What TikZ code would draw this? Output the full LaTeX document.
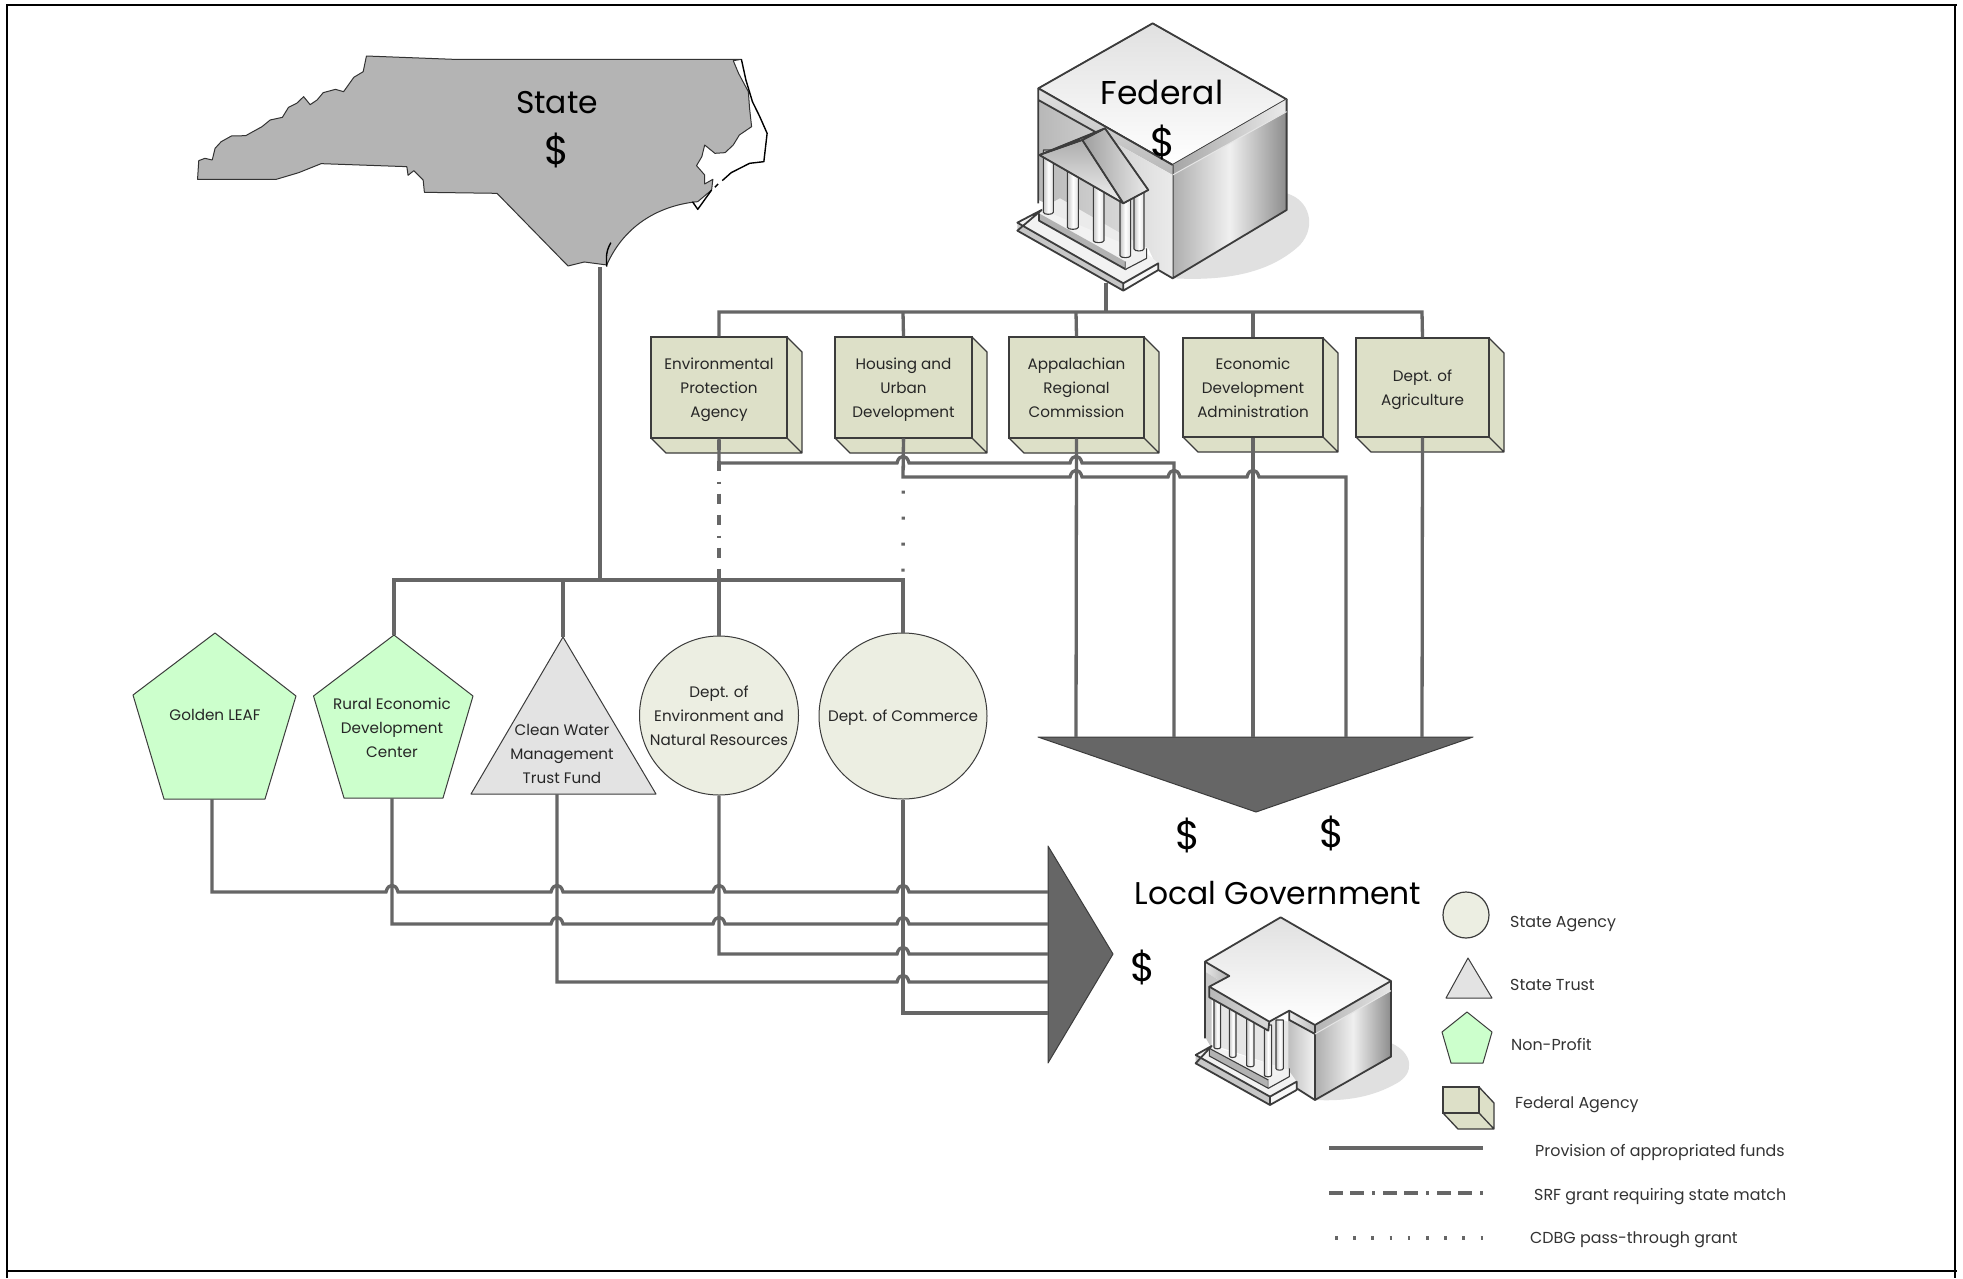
\documentclass[tikz,border=0pt]{standalone}
\usepackage{fontspec}
\setmainfont{Poppins}
\usetikzlibrary{shapes.geometric}
\definecolor{lineg}{HTML}{666666}
\definecolor{boxf}{HTML}{DDE0C8}
\definecolor{circf}{HTML}{ECEEE2}
\definecolor{triaf}{HTML}{E3E3E3}
\definecolor{pentf}{HTML}{CCFFCC}
\definecolor{mapf}{HTML}{B4B4B4}
\definecolor{edgeg}{HTML}{3C3C3C}
\newcommand{\hop}[2]{-- ({#1-6},#2) .. controls ({#1-4},{#2-9}) and ({#1+4},{#2-9}) .. ({#1+6},#2)}
\newcommand{\txtS}{\fontsize{15.2}{24}\selectfont}
\newcommand{\txtL}{\fontsize{15.9}{20}\selectfont}
\newcommand{\txtB}{\fontsize{31.4}{36}\selectfont}
\newcommand{\txtF}{\fontsize{33}{36}\selectfont}
\newcommand{\txtD}{\fontsize{40}{44}\selectfont}
\newcommand{\vstrut}{\rule[-7pt]{0pt}{25pt}}
\newcommand{\agencybox}[6]{% name, x0,y0,x1,y1, text
  \fill[boxf] (#2,#5) -- ({#2+15},{#5+15}) -- ({#4+15},{#5+15}) -- ({#4+15},{#3+15}) -- (#4,#3) -- cycle;
  \draw[edgeg,line width=1.3pt,line join=round] (#2,#5) -- ({#2+15},{#5+15}) -- ({#4+15},{#5+15}) -- ({#4+15},{#3+15}) -- (#4,#3) (#4,#5) -- ({#4+15},{#5+15});
  \node[agency,minimum width={(#4-#2)*1pt},minimum height={(#5-#3)*1pt}] (#1) at ({(#2+#4)/2},{(#3+#5)/2}) {};
  \node[labm] (#1t) at (#1.center) {#6};
}
\tikzset{
  x=1pt,y=-1pt,
  fund/.style={lineg,line width=3.3pt,line join=miter},
  srf/.style={lineg,line width=3.3pt,dash pattern=on 14pt off 7pt on 14pt off 8pt on 2.5pt off 8.5pt},
  srfv/.style={lineg,line width=3.3pt,dash pattern=on 10pt off 11pt on 10pt off 11pt on 2pt off 10pt},
  cdbg/.style={lineg,line width=3.3pt,dash pattern=on 2.5pt off 15.7pt},
  cdbgv/.style={lineg,line width=3.3pt,dash pattern=on 3pt off 23pt},
  agency/.style={draw=edgeg,line width=1.3pt,fill=boxf,inner sep=0pt},
  stateag/.style={draw=edgeg,line width=1pt,fill=circf,ellipse,inner sep=0pt},
  shp/.style={draw=edgeg,line width=1pt,line join=round},
  lab/.style={inner sep=0pt,align=center,text=black!85,font=\txtS,execute at begin node=\vstrut,execute at end node=\vstrut},
  labm/.style={lab,yshift=-3.75pt},
  leg/.style={inner sep=0pt,anchor=west,text=black!80,font=\txtL,execute at begin node=\vstrut},
  big/.style={inner sep=0pt,text=black,font=\txtB},
  bigf/.style={inner sep=0pt,text=black,font=\txtF},
  bigd/.style={inner sep=0pt,text=black,font=\txtD},
  bld/.style={draw=edgeg,line width=1.8pt,line join=round},
  bldt/.style={draw=edgeg,line width=1.1pt,line join=round},
}
\begin{document}
\begin{tikzpicture}
\useasboundingbox (0,0) rectangle (1963,1278);
\fill[white] (0,0) rectangle (1963,1278);
% page frame
\draw[black,line width=2.4pt] (7,1278) -- (7,5) -- (1957,5);
\draw[black,line width=2.4pt] (1955,5) -- (1955,1278);
\draw[black,line width=2.4pt] (7,1271) -- (1957,1271);

% ---------- North Carolina map
\begin{scope}[xshift=160pt,yshift=-20pt,x=0.408pt,y=-0.3333pt]
 \draw[black!80,line width=1pt,fill=mapf,line join=round]
  (92,478) -- (95,422) -- (110,415) -- (128,420) -- (135,385) -- (150,365) -- (175,348) -- (210,347) -- (250,320) -- (270,300) -- (300,292) -- (315,262) -- (335,250) -- (352,230) -- (368,254) -- (385,240) -- (400,218) -- (430,208) -- (450,215) -- (475,172) -- (498,155) -- (506,108) -- (720,118) -- (1425,118)
  -- (1405,122) -- (1418,160) -- (1442,215) -- (1445,265) -- (1450,320) -- (1420,345) -- (1405,375) -- (1385,398) -- (1360,400) -- (1335,375) -- (1328,410) -- (1315,437) -- (1335,465) -- (1335,492) -- (1355,478) -- (1352,510) -- (1318,545) .. controls (1230,555) and (1140,610) .. (1095,735) -- (1040,726) -- (1000,738) -- (826,520) -- (648,517) -- (645,480) -- (622,452) -- (608,466) -- (605,440) -- (395,431) -- (340,458) -- (285,478) -- cycle;
 \draw[black,line width=1.4pt,line join=round]
  (1425,118) -- (1436,180) -- (1452,245) -- (1470,290) -- (1488,340) -- (1480,425) -- (1445,430) -- (1400,458) -- (1378,482)
  (1368,492) -- (1360,502)
  (1352,510) -- (1318,568) -- (1305,545)
  (1105,668) .. controls (1090,700) and (1095,720) .. (1095,740);
\end{scope}
\node[big] (statelbl) at (557,103) {State};
\node[bigd] (statedol) at (557,150) {\$};
\coordinate (mapfoot) at (600,267);

% ---------- Federal building
\begin{scope}[xshift=980pt,yshift=0pt,x=0.3333pt,y=-0.3333pt]
 \fill[black!12] (920,580) .. controls (990,600) and (1010,680) .. (960,735) .. controls (880,810) and (760,845) .. (580,835) -- cycle;
 \shade[top color=black!12,bottom color=white,bldt] (518,70) -- (920,298) -- (578,495) -- (175,265) -- cycle;
 \draw[bld] (518,70) -- (920,298) -- (578,495) -- (175,265) -- cycle;
 \shade[left color=black!35,right color=black!8,draw=none] (578,495) -- (920,298) -- (920,335) -- (578,525) -- cycle;
 \shade[left color=black!32,right color=black!45,middle color=black!6,draw=none] (578,525) -- (920,335) -- (920,630) -- (578,835) -- cycle;
 \draw[bld] (578,495) -- (578,835) -- (920,630) -- (920,298);
 \draw[black!10,line width=1pt] (578,525) -- (920,335);
 \shade[top color=black!12,bottom color=black!28,draw=none] (175,265) -- (578,495) -- (578,525) -- (175,300) -- cycle;
 \shade[left color=black!28,right color=black!8,draw=none] (175,300) -- (578,525) -- (578,835) -- (535,810) -- (505,745) -- (175,600) -- cycle;
 \draw[bld] (175,265) -- (578,495) (175,300) -- (375,412) (175,265) -- (175,610) (578,835) -- (535,810);
 % floor
 \fill[black!8] (185,625) -- (240,595) -- (500,745) -- (435,780) -- cycle;
 % plinth
 \fill[black!5] (112,668) -- (185,628) -- (500,760) -- (535,790) -- (430,850) -- cycle;
 \fill[black!22] (112,668) -- (430,850) -- (430,872) -- (112,692) -- cycle;
 \fill[black!3] (430,850) -- (535,790) -- (535,810) -- (430,872) -- cycle;
 \draw[bld] (185,630) -- (112,668) -- (430,850) -- (535,790) -- (535,810) -- (430,872) -- (112,692) -- cycle (430,850) -- (430,872);
 \fill[black!30] (177,640) -- (437,785) -- (437,808) -- (177,662) -- cycle;
 \draw[bld] (177,640) -- (177,662) -- (437,808) -- (437,785);
 \fill[black!6] (437,785) -- (500,745) -- (500,775) -- (437,808) -- cycle;
 \draw[bldt] (437,808) -- (500,775) -- (500,745);
 % columns
 \foreach \xa/\xb/\ya/\yb in {462/492/570/755,190/220/450/645,262/295/500/690,340/372/540/730,420/452/590/775}{
  \shade[left color=black!22,right color=black!12,middle color=white,bldt] (\xa,\ya) -- (\xa,{\yb-8}) .. controls (\xa,\yb) and (\xb,\yb) .. (\xb,{\yb-8}) -- (\xb,\ya) -- cycle;
 }
 % pediment
 \shade[top color=black!32,bottom color=black!6,bldt] (178,465) -- (307,420) -- (430,610) -- cycle;
 \shade[left color=black!38,right color=black!8,bldt] (307,420) -- (375,385) -- (505,570) -- (430,610) -- cycle;
 \fill[black!5,bldt] (178,465) -- (375,385) -- (307,420) -- cycle;
 \draw[bld] (178,465) -- (375,385) -- (505,570) -- (430,610) -- cycle (178,465) -- (307,420) -- (430,610) (307,420) -- (375,385);
\end{scope}
\node[bigf] (fedlbl) at (1162,92) {Federal};
\node[bigd] (feddol) at (1163,142) {\$};
\coordinate (fedfoot) at (1106,283);

% ---------- Local government building
\begin{scope}[xshift=1030pt,yshift=-720pt,x=0.3333pt,y=-0.3333pt]
 \fill[black!12] (1085,970) .. controls (1150,1000) and (1155,1060) .. (1100,1090) .. controls (1030,1130) and (950,1145) .. (855,1140) -- cycle;
 \shade[left color=black!32,right color=black!45,middle color=black!6,draw=none] (855,942) -- (1083,812) -- (1083,1010) -- (855,1140) -- cycle;
 \shade[left color=black!30,right color=black!10,draw=none] (855,915) -- (1083,783) -- (1083,812) -- (855,942) -- cycle;
 \shade[left color=black!8,right color=black!25,draw=none] (778,872) -- (855,915) -- (855,942) -- (778,900) -- cycle;
 \shade[left color=black!25,right color=black!5,draw=none] (775,900) -- (855,942) -- (855,1140) -- (800,1105) -- (775,1090) -- cycle;
 \shade[left color=black!10,right color=black!30,draw=none] (525,725) -- (598,768) -- (570,782) -- (525,755) -- cycle;
 \fill[black!22] (525,755) -- (570,782) -- (545,800) -- (545,985) -- (525,950) -- cycle;
 \fill[black!10] (550,840) -- (775,905) -- (775,1050) -- (550,975) -- cycle;
 \draw[bld] (525,725) -- (525,955) (855,915) -- (855,1140) -- (1083,1010) -- (1083,783) (855,1140) -- (800,1105) (778,872) -- (778,900) -- (855,942);
 \draw[black!10,line width=1pt] (855,942) -- (1083,812);
 % plinth
 \fill[black!5] (497,1005) -- (545,978) -- (775,1050) -- (800,1085) -- (720,1130) -- cycle;
 \fill[black!22] (497,1005) -- (720,1130) -- (720,1155) -- (497,1030) -- cycle;
 \fill[black!3] (720,1130) -- (800,1085) -- (800,1110) -- (720,1155) -- cycle;
 \draw[bld] (545,978) -- (497,1005) -- (720,1130) -- (800,1085) -- (800,1110) -- (720,1155) -- (497,1030) -- cycle (720,1130) -- (720,1155);
 \fill[black!30] (538,985) -- (715,1080) -- (715,1105) -- (538,1008) -- cycle;
 \draw[bldt] (538,985) -- (538,1008) -- (715,1105) -- (715,1080) -- cycle;
 \fill[black!6] (715,1080) -- (778,1045) -- (778,1070) -- (715,1105) -- cycle;
 \draw[bldt] (715,1105) -- (778,1070) -- (778,1045);
 % columns
 \foreach \xa/\xb/\ya/\yb in {738/760/900/1052,552/572/830/988,598/618/855/1014,650/672/885/1042,703/725/915/1072}{
  \shade[left color=black!22,right color=black!12,middle color=white,bldt] (\xa,\ya) -- (\xa,{\yb-6}) .. controls (\xa,\yb) and (\xb,\yb) .. (\xb,{\yb-6}) -- (\xb,\ya) -- cycle;
 }
 % entablature and roof
 \shade[left color=black!28,right color=black!15,draw=none] (538,800) -- (718,905) -- (715,932) -- (538,832) -- cycle;
 \draw[bld] (538,800) -- (538,832) -- (715,932) -- (718,905);
 \shade[top color=black!12,bottom color=white,draw=none] (752,592) -- (1083,783) -- (855,915) -- (778,872) -- (718,905) -- (538,800) -- (598,768) -- (525,725) -- cycle;
 \draw[bld] (752,592) -- (1083,783) -- (855,915) -- (778,872) -- (718,905) -- (538,800) -- (598,768) -- (525,725) -- cycle;
\end{scope}
\node[big] (locallbl) at (1278,893.5) {Local Government};
\node[bigd] (d1) at (1188,835) {\$};
\node[bigd] (d2) at (1332,833) {\$};
\node[bigd] (d3) at (1143,967) {\$};

% ---------- Federal agencies
\agencybox{epa}{651}{337}{787}{438}{Environmental\\Protection\\Agency}
\agencybox{hud}{835}{337}{972}{438}{Housing and\\Urban\\Development}
\agencybox{arc}{1009}{337}{1144}{438}{Appalachian\\Regional\\Commission}
\agencybox{eda}{1183}{338}{1323}{437}{Economic\\Development\\Administration}
\agencybox{agr}{1356}{338}{1489}{437}{Dept. of\\Agriculture}

% ---------- State shapes
\node[stateag,minimum width=159pt,minimum height=159pt] (denr) at (719,715.5) {};
\node[labm] (denrt) at (denr.center) {Dept. of\\Environment and\\Natural Resources};
\node[stateag,minimum width=168pt,minimum height=166pt] (doc) at (903,716) {};
\node[lab] (doct) at (doc.center) {Dept. of Commerce};
\filldraw[shp,fill=pentf] (215,633) -- (296,696) -- (265,799) -- (164,799) -- (133,695) -- cycle;
\filldraw[shp,fill=pentf] (394,635) -- (473,696) -- (443,798) -- (344,798) -- (313.5,696) -- cycle;
\filldraw[shp,fill=triaf] (563,637) -- (656,794) -- (471,794) -- cycle;
\node[lab] (gl) at (215,715) {Golden LEAF};
\node[labm] (rural) at (392,727) {Rural Economic\\Development\\Center};
\node[labm] (cw) at (562,754) {Clean Water\\Management\\Trust Fund};
\coordinate (glB) at (212,799);
\coordinate (ruT) at (394,635);
\coordinate (ruB) at (392,798);
\coordinate (cwT) at (563,637);
\coordinate (cwB) at (557,794);

% ---------- Arrow-shaped collectors
\filldraw[fill=lineg,draw=edgeg,line width=1pt,line join=round] (1038,737) -- (1473,737) -- (1256,812) -- cycle;
\filldraw[fill=lineg,draw=edgeg,line width=1pt,line join=round] (1048,846) -- (1113,954) -- (1048,1063) -- cycle;
\coordinate (funTop1) at (1076,737);
\coordinate (funTop2) at (1174,737);
\coordinate (funTop3) at (1253,737);
\coordinate (funTop4) at (1346,737);
\coordinate (funTop5) at (1422,737);
\coordinate (busEnd) at (903,580);

% ---------- Connectors: top
\draw[fund] (fedfoot) -- (1106,312);
\draw[fund] (epa.north) -- (719,312) -- (1422,312) -- (agr.north);
\draw[fund] (hud.north) -- (903,312);
\draw[fund] (arc.north) -- (1076,312);
\draw[fund] (eda.north) -- (1253,312);
\draw[fund] (arc.south) -- (funTop1);
\draw[fund] (eda.south) -- (funTop3);
\draw[fund] (agr.south) -- (funTop5);
\draw[fund] (epa.south) -- (719,463) \hop{903}{463} \hop{1076}{463} -- (1174,463) -- (funTop2);
\draw[fund] (hud.south) -- (903,477) \hop{1076}{477} \hop{1174}{477} \hop{1253}{477} -- (1346,477) -- (funTop4);
\draw[srfv,dash phase=53pt] (epa.south) -- (denr.north);
\draw[cdbgv] (hud.south) -- (busEnd);

% ---------- Connectors: state
\draw[fund] (mapfoot) -- (600,580);
\draw[fund] (ruT) -- (394,580) -- (903,580) -- (doc.north);
\draw[fund] (cwT) -- (563,580);
\draw[fund] (denr.north) -- (719,580);

% ---------- Connectors: lower
\draw[fund] (glB) -- (212,892) \hop{392}{892} \hop{557}{892} \hop{719}{892} \hop{903}{892} -- (1048,892);
\draw[fund] (ruB) -- (392,924) \hop{557}{924} \hop{719}{924} \hop{903}{924} -- (1048,924);
\draw[fund] (denr.south) -- (719,954) \hop{903}{954} -- (1048,954);
\draw[fund] (cwB) -- (557,982) \hop{903}{982} -- (1048,982);
\draw[fund] (doc.south) -- (903,1013) -- (1048,1013);

% ---------- Legend
\node[stateag,minimum width=46pt,minimum height=46pt,line width=1.2pt] (lg1) at (1466,915) {};
\filldraw[shp,fill=triaf] (1468,958) -- (1492,998) -- (1446,998) -- cycle;
\filldraw[shp,fill=pentf] (1467,1012) -- (1492,1032) -- (1483,1063) -- (1451,1063) -- (1442,1032) -- cycle;
\fill[boxf] (1443,1113) -- (1458,1129) -- (1494,1129) -- (1494,1103) -- (1479,1087) -- cycle;
\draw[edgeg,line width=1.3pt,line join=round] (1443,1113) -- (1458,1129) -- (1494,1129) -- (1494,1103) -- (1479,1087) (1479,1113) -- (1494,1129);
\node[draw=edgeg,line width=1.3pt,fill=boxf,minimum width=36pt,minimum height=26pt,inner sep=0pt] (lg4) at (1461,1100) {};
\node[leg] (t1) at (1510,922) {State Agency};
\node[leg] (t2) at (1510,985) {State Trust};
\node[leg] (t3) at (1511,1045) {Non-Profit};
\node[leg] (t4) at (1515,1103) {Federal Agency};
\node[leg] (t5) at (1535,1151) {Provision of appropriated funds};
\node[leg] (t6) at (1534,1195) {SRF grant requiring state match};
\node[leg] (t7) at (1530,1238) {CDBG pass-through grant};
\coordinate (l1a) at (1329,1148); \coordinate (l1b) at (1483,1148);
\coordinate (l2a) at (1329,1193); \coordinate (l2b) at (1483,1193);
\coordinate (l3a) at (1335,1238); \coordinate (l3b) at (1483,1238);
\draw[fund] (l1a) -- (l1b);
\draw[srf] (l2a) -- (l2b);
\draw[cdbg] (l3a) -- (l3b);
\end{tikzpicture}
\end{document}
